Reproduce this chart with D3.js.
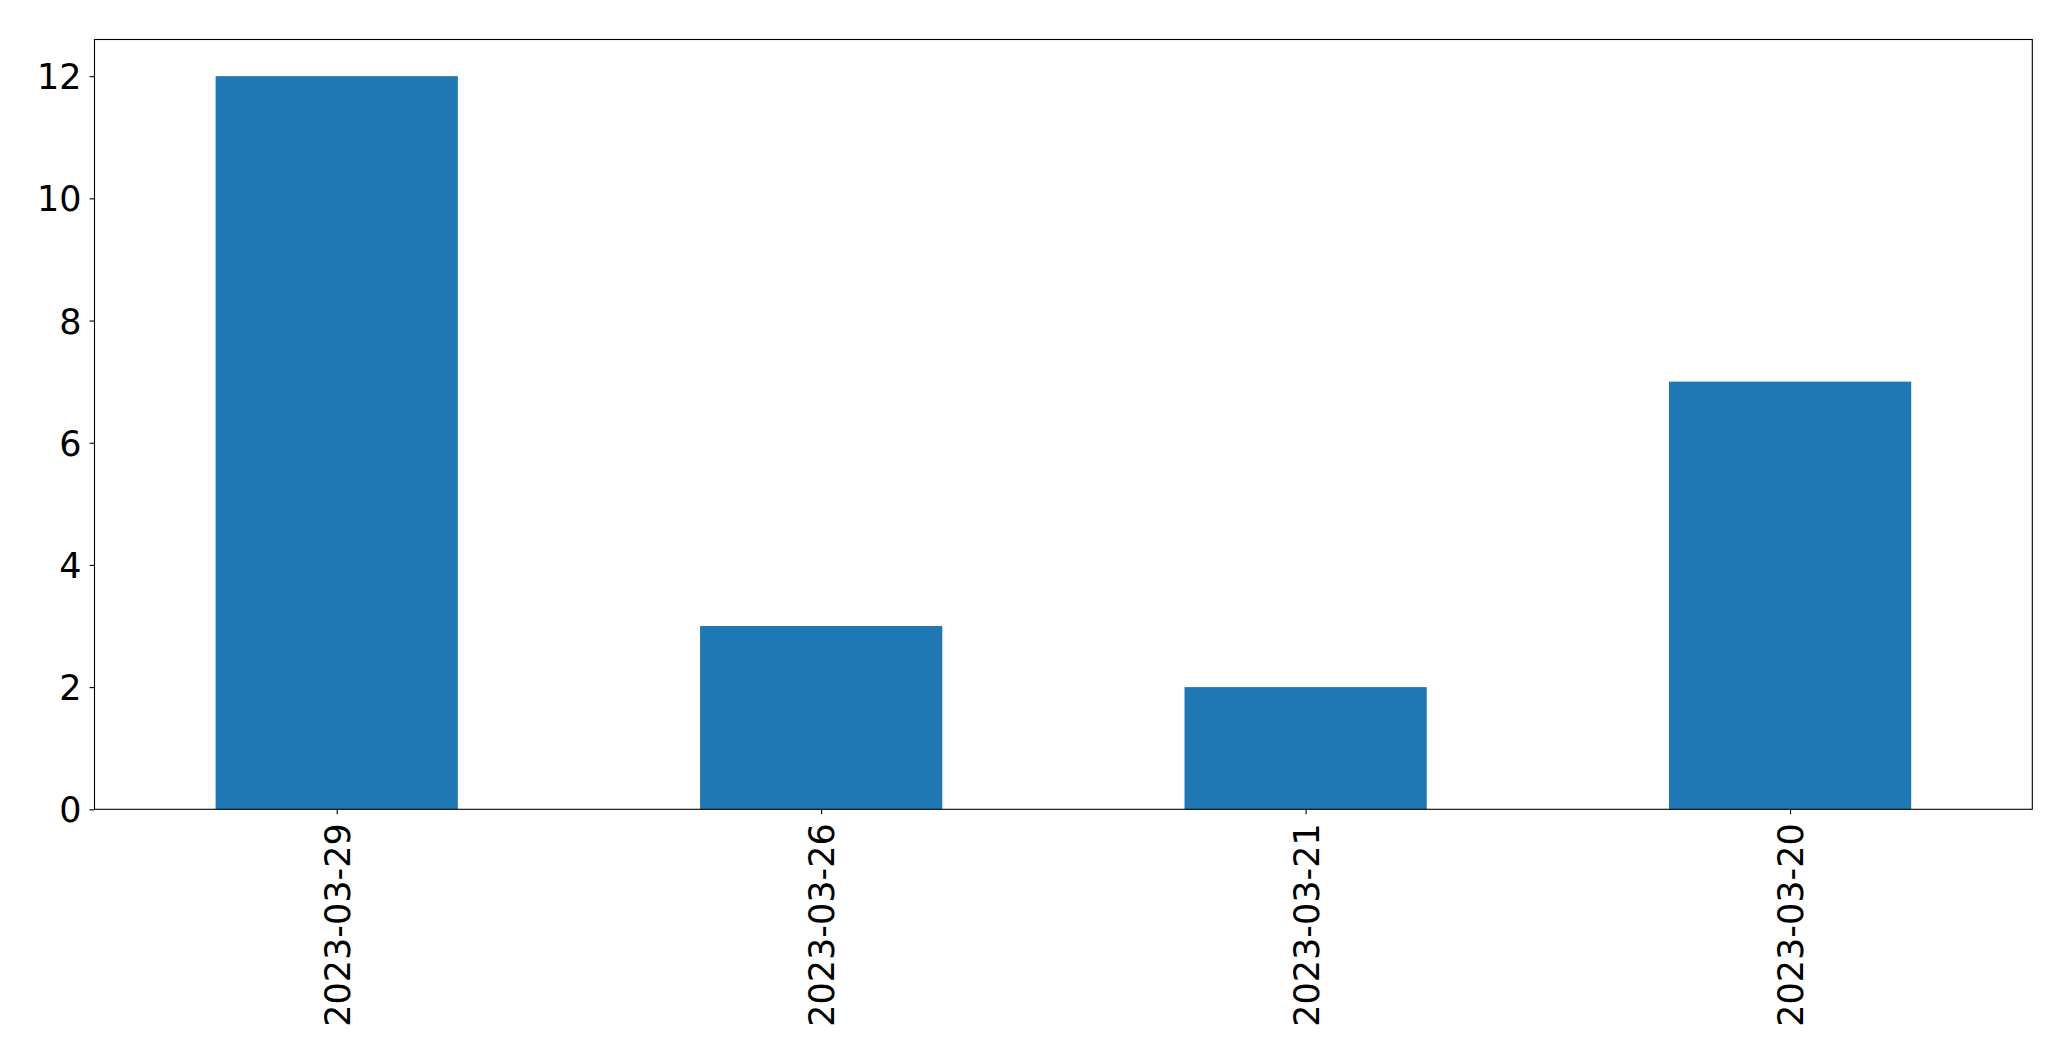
<!DOCTYPE html>
<html><head><meta charset="utf-8">
<script src="https://cdn.jsdelivr.net/npm/d3@7"></script>
<style>body{margin:0;background:#fff}svg{display:block}</style>
</head><body>
<script>
const categories = ["2023-03-29","2023-03-26","2023-03-21","2023-03-20"];
const values = [12, 3, 2, 7];
const yTicks = [0, 2, 4, 6, 8, 10, 12];

const W = 2071, H = 1061;
const m = {left: 94.5, right: 2032.3, top: 39.5, bottom: 809.3};
const svg = d3.select("body").append("svg").attr("width", W).attr("height", H);

const x = d3.scaleLinear().domain([-0.5, categories.length - 0.5]).range([m.left, m.right]);
const y = d3.scaleLinear().domain([0, d3.max(values) * 1.05]).range([m.bottom, m.top]);
const font = "DejaVu Sans";

svg.append("g").selectAll("rect").data(values).join("rect")
  .attr("x", (d, i) => x(i - 0.25))
  .attr("width", (d, i) => x(i + 0.25) - x(i - 0.25))
  .attr("y", d => y(d))
  .attr("height", d => y(0) - y(d))
  .attr("fill", "#1f77b4");

// y axis
const ya = svg.append("g").attr("transform", `translate(${m.left},0)`)
  .call(d3.axisLeft(y).tickValues(yTicks).tickSize(5).tickSizeOuter(0).tickPadding(8));
ya.select(".domain").remove();
ya.selectAll("line").attr("stroke", "#000").attr("stroke-width", 1.1);
ya.selectAll("text").attr("font-family", font).attr("font-size", 35).attr("fill", "#000").attr("dy", "0.36em");

// x axis
const xa = svg.append("g").attr("transform", `translate(0,${m.bottom})`)
  .call(d3.axisBottom(x).tickValues(d3.range(categories.length)).tickFormat(i => categories[i]).tickSize(5).tickSizeOuter(0));
xa.select(".domain").remove();
xa.selectAll("line").attr("stroke", "#000").attr("stroke-width", 1.1);
xa.selectAll("text")
  .attr("font-family", font).attr("font-size", 35).attr("fill", "#000")
  .attr("text-anchor", "end")
  .attr("transform", "translate(0,14) rotate(-90)")
  .attr("x", 0).attr("y", 0).attr("dy", "0.36em");

// frame
svg.append("rect").attr("x", m.left).attr("y", m.top)
  .attr("width", m.right - m.left).attr("height", m.bottom - m.top)
  .attr("fill", "none").attr("stroke", "#000").attr("stroke-width", 1.1);
</script>
</body></html>
